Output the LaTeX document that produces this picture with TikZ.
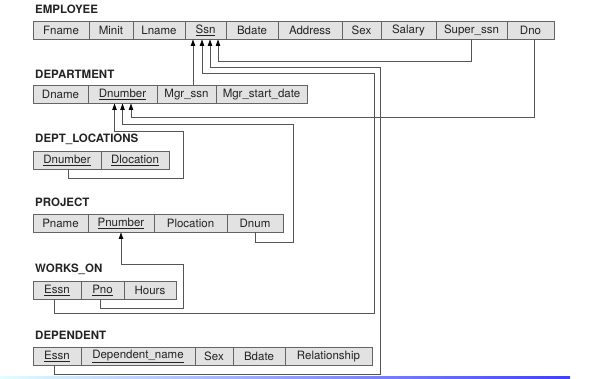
\documentclass[tikz,border=0pt]{standalone}
\usepackage{fontspec}
\setmainfont{TeX Gyre Heros}
\usetikzlibrary{positioning, arrows.meta}
\definecolor{cellgray}{RGB}{226, 226, 226}
\definecolor{edgegray}{RGB}{100, 100, 100}
\definecolor{linegray}{RGB}{85, 85, 85}
\definecolor{textdark}{RGB}{35, 35, 35}

\begin{document}
\begin{tikzpicture}[
        x=1pt, y=-1pt,
        node distance=0pt,
        cell/.style={rectangle, draw=edgegray, fill=cellgray, line width=0.8pt,
            minimum height=18.5pt, inner sep=0pt, outer sep=0pt,
            font=\fontsize{11.5}{13}\selectfont, text=textdark},
        reltitle/.style={anchor=base west, inner sep=0pt,
            font=\fontsize{11.5}{13}\selectfont\bfseries, text=textdark},
        fk/.style={-{Triangle[length=6.5pt, width=4.5pt, color=black]},
            line width=0.8pt, color=linegray}
        ]
        \useasboundingbox (0,0) rectangle (590,379);

        % EMPLOYEE
        \node[reltitle] (emptitle) at (35,14) {EMPLOYEE};
        \node[cell, minimum width=56pt, anchor=north west] (fname) at (33,21) {Fname};
        \node[cell, minimum width=44pt, right=of fname] (minit) {Minit};
        \node[cell, minimum width=52pt, right=of minit] (lname) {Lname};
        \node[cell, minimum width=41pt, right=of lname] (ssn) {\underline{Ssn}};
        \node[cell, minimum width=52pt, right=of ssn] (bdate) {Bdate};
        \node[cell, minimum width=64pt, right=of bdate] (address) {Address};
        \node[cell, minimum width=39pt, right=of address] (sex) {Sex};
        \node[cell, minimum width=55pt, right=of sex] (salary) {Salary};
        \node[cell, minimum width=71pt, right=of salary] (superssn) {Super\_ssn};
        \node[cell, minimum width=47pt, right=of superssn] (dno) {Dno};

        % DEPARTMENT
        \node[reltitle] (depttitle) at (35,78.5) {DEPARTMENT};
        \node[cell, minimum width=55pt, anchor=north west] (dname) at (33,85) {Dname};
        \node[cell, minimum width=69pt, right=of dname] (dnumber) {\underline{Dnumber}};
        \node[cell, minimum width=59pt, right=of dnumber] (mgrssn) {Mgr\_ssn};
        \node[cell, minimum width=91pt, right=of mgrssn] (mgrstart) {Mgr\_start\_date};

        % DEPT_LOCATIONS
        \node[reltitle] (dltitle) at (35,143) {DEPT\_LOCATIONS};
        \node[cell, minimum width=68pt, anchor=north west] (dldnumber) at (33,151) {\underline{Dnumber}};
        \node[cell, minimum width=68pt, right=of dldnumber] (dlocation) {\underline{Dlocation}};

        % PROJECT
        \node[reltitle] (projtitle) at (35,207) {PROJECT};
        \node[cell, minimum width=55pt, anchor=north west] (pname) at (33,214) {Pname};
        \node[cell, minimum width=66pt, right=of pname] (pnumber) {\underline{Pnumber}};
        \node[cell, minimum width=73pt, right=of pnumber] (plocation) {Plocation};
        \node[cell, minimum width=56pt, right=of plocation] (pdnum) {Dnum};

        % WORKS_ON
        \node[reltitle] (wotitle) at (35,272.5) {WORKS\_ON};
        \node[cell, minimum width=48pt, anchor=north west] (woessn) at (33,281) {\underline{Essn}};
        \node[cell, minimum width=43pt, right=of woessn] (wopno) {\underline{Pno}};
        \node[cell, minimum width=52pt, right=of wopno] (hours) {Hours};

        % DEPENDENT
        \node[reltitle] (deptitle) at (35,339.5) {DEPENDENT};
        \node[cell, minimum width=48pt, anchor=north west] (depessn) at (33,347) {\underline{Essn}};
        \node[cell, minimum width=114pt, right=of depessn] (depname) {\underline{Dependent\_name}};
        \node[cell, minimum width=38pt, right=of depname] (depsex) {Sex};
        \node[cell, minimum width=52pt, right=of depsex] (depbdate) {Bdate};
        \node[cell, minimum width=87pt, right=of depbdate] (relation) {Relationship};

        % arrow ends under Ssn and Dnumber
        \coordinate (ssn1) at ([xshift=-12.5pt]ssn.south);
        \coordinate (ssn2) at ([xshift=-3.5pt]ssn.south);
        \coordinate (ssn3) at ([xshift=4.5pt]ssn.south);
        \coordinate (ssn4) at ([xshift=12.5pt]ssn.south);
        \coordinate (dn1) at ([xshift=-8pt]dnumber.south);
        \coordinate (dn2) at (dnumber.south);
        \coordinate (dn3) at ([xshift=8.5pt]dnumber.south);

        % foreign keys to Ssn
        \draw[fk] (superssn.south) -- ++(0,21.5) -| (ssn4);
        \draw[fk] ([xshift=-3pt]depessn.south) -- ++(0,9) -- ++(326,0)
            |- ([yshift=-27.5pt]ssn3) -- (ssn3);
        \draw[fk] ([xshift=-3pt]woessn.south) -- ++(0,14) -- ++(320,0)
            |- ([yshift=-33.5pt]ssn2) -- (ssn2);
        \draw[fk] (mgrssn.north -| ssn1) -- (ssn1);

        % foreign keys to Dnumber
        \draw[fk] ([xshift=3.5pt]dno.south) |- ([yshift=-13.5pt]dn3) -- (dn3);
        \draw[fk] (pdnum.south) -- ++(0,10) -- ++(38,0)
            |- ([yshift=-20.5pt]dn2) -- (dn2);
        \draw[fk] ([xshift=1pt]dldnumber.south) -- ++(0,9) -- ++(115,0)
            |- ([yshift=-28pt]dn1) -- (dn1);

        % foreign key to Pnumber
        \draw[fk] ([xshift=-2.5pt]wopno.south) -- ++(0,9) -- ++(83.5,0)
            |- ([yshift=-32pt]pnumber.south) -- (pnumber.south);

        \shade[left color=cyan!12, right color=blue!75] (0,376.8) rectangle (570,378.3);
    \end{tikzpicture}
\end{document}
